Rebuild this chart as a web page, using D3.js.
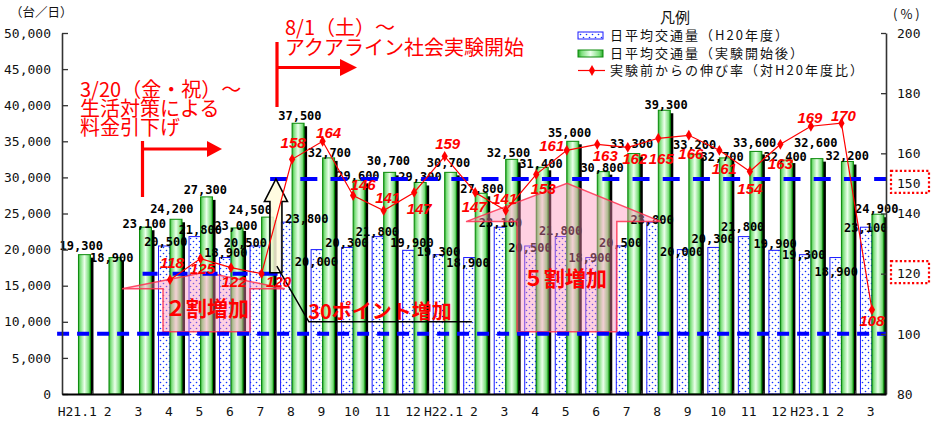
<!DOCTYPE html>
<html><head><meta charset="utf-8">
<script src="https://cdn.jsdelivr.net/npm/d3@7"></script>
<style>body{margin:0;background:#fff}svg{display:block}</style>
</head><body>
<svg id="c" width="937" height="424"></svg>
<script>
// ---------- DATA ----------
const months = ["H21.1","2","3","4","5","6","7","8","9","10","11","12","H22.1","2","3","4","5","6","7","8","9","10","11","12","H23.1","2","3"];
const trafficH20 = [null,null,null,20500,21800,18900,20500,23800,20000,20300,21800,19900,19300,18900,23100,20500,21800,18900,20500,23800,20000,20300,21800,19900,19300,18900,23100];
const trafficAfter = [19300,18900,23100,24200,27300,23000,24500,37500,32700,29600,30700,29300,30700,27800,32500,31400,35000,30800,33300,39300,33200,32700,33600,32400,32600,32200,24900];
const growthRate = [null,null,null,118,125,122,120,158,164,146,141,147,159,147,141,153,161,163,162,165,166,161,154,163,169,170,108];
const leftTicks = [0,5000,10000,15000,20000,25000,30000,35000,40000,45000,50000];
const rightTicks = [80,100,120,140,160,180,200];
const highlightedRight = [120,150];
const legendLabels = ["日平均交通量（H20年度）","日平均交通量（実験開始後）","実験前からの伸び率（対H20年度比）"];

// ---------- LABEL PLACEMENT (offsets in px relative to each mark) ----------
const afterLabelDx = [4,4,6,3,6,6,-10,9,8,6,6,7,5,8,4,6,4,6,5,9,7,4,6,6,6,7,6];
const afterLabelDy = [-9,0,-4,-11,-7,-2,-7,-8,-5,-5,-12,-6,-10,-5,-7,-4,-9,-4,-10,-6,-10,-1,-9,-3,-16,-6,-6];
const h20LabelDx = [0,0,0,-3,1,-4,-15,16,-5,-5,-5,-1,-5,-6,-4,-5,-5,-6,-6,-5,-6,-5,-6,-4,-6,-4,-5];
const h20LabelDy = [0,0,0,-4,-7,-5,-3,-3,12,-5,-5,-8,-3,5,-5,2,-6,0,-3,-2,2,-9,-10,-7,0,14,0];
const rateLabelDx = [0,0,0,2,2,3,17,1,6,10,4,5,3,-1,-1,7,-15,8,7,3,2,5,0,0,-1,2,0];
const rateLabelDy = [0,0,0,-17,10,14,8,-17,-9,-11,-13,16,-13,14,-12,14,-5,11,11,20,18,18,17,19,-9,-8,11];

// ---------- SETUP ----------
const svg = d3.select("#c");
const P = {l:62, r:886, t:33, b:394};
const x = d3.scaleBand().domain(d3.range(months.length)).range([P.l, P.r]);
const bw = x.bandwidth();
const xc = i => x(i) + bw/2;
const X = f => P.l + (f + 0.5) * bw;          // fractional month position
const y = d3.scaleLinear().domain([0,50000]).range([P.b, P.t]);
const yR = d3.scaleLinear().domain([80,200]).range([P.b, P.t]);
const sub = d3.scaleBand().domain(["h20","after"]).range([bw/2 - 10.8, bw/2 + 13.2]);
const BW = sub.bandwidth();

const MONO = "'DejaVu Sans Mono', monospace";
const JP = "'Noto Sans CJK JP', sans-serif";
const RED = "#ff0000";

const defs = svg.append("defs");
const pat = defs.append("pattern").attr("id","dots").attr("patternUnits","userSpaceOnUse")
  .attr("width",6).attr("height",6);
pat.append("rect").attr("width",6).attr("height",6).attr("fill","#fff");
pat.append("circle").attr("cx",1.5).attr("cy",1.5).attr("r",0.8).attr("fill","#1030ff");
pat.append("circle").attr("cx",4.5).attr("cy",4.5).attr("r",0.8).attr("fill","#1030ff");
const gr = defs.append("linearGradient").attr("id","green").attr("x1",0).attr("x2",1).attr("y1",0).attr("y2",0);
[[0,"#2aa82a"],[0.15,"#7ee07e"],[0.5,"#ecffec"],[0.85,"#7ee07e"],[1,"#2aa82a"]]
  .forEach(([o,c]) => gr.append("stop").attr("offset",o).attr("stop-color",c));

// ---------- BARS ----------
const gBars = svg.append("g");
const h20 = trafficH20.map((v,i)=>({v,i})).filter(d=>d.v!=null);
const aft = trafficAfter.map((v,i)=>({v,i}));
gBars.selectAll(".h20").data(h20).join("rect")
  .attr("x", d => x(d.i) + sub("h20") + 0.5).attr("y", d => y(d.v))
  .attr("width", BW - 0.5).attr("height", d => P.b - y(d.v))
  .attr("fill","url(#dots)").attr("stroke","#1a1aff").attr("stroke-width",1);
gBars.selectAll(".sh").data(aft).join("rect")
  .attr("x", d => x(d.i) + sub("after") + 3).attr("y", d => y(d.v) + 3)
  .attr("width", BW).attr("height", d => P.b - y(d.v) - 3).attr("fill","#000");
gBars.selectAll(".af").data(aft).join("rect")
  .attr("x", d => x(d.i) + sub("after")).attr("y", d => y(d.v))
  .attr("width", BW).attr("height", d => P.b - y(d.v))
  .attr("fill","url(#green)").attr("stroke","#0a8a0a").attr("stroke-width",1);

// ---------- VALUE LABELS ----------
const fmt = d3.format(",");
const gVal = svg.append("g").attr("font-family",MONO).attr("font-weight","bold").attr("font-size",12)
  .attr("text-anchor","middle").attr("fill","#000");
gVal.selectAll(".lh").data(h20).join("text")
  .attr("x", d => xc(d.i) + h20LabelDx[d.i]).attr("y", d => y(d.v) + h20LabelDy[d.i])
  .attr("dy","0.36em").text(d => fmt(d.v));
gVal.selectAll(".la").data(aft).join("text")
  .attr("x", d => xc(d.i) + afterLabelDx[d.i]).attr("y", d => y(d.v) + afterLabelDy[d.i])
  .attr("dy","0.36em").text(d => fmt(d.v));

// ---------- PINK "INCREASE" ARROWS ----------
const gAnn = svg.append("g");
function blockArrow(hl, hr, ax, ay, baseY, bl, br, botY){
  return [[X(hl),yR(baseY)],[X(ax),yR(ay)],[X(hr),yR(baseY)],[X(br),yR(baseY)],[X(br),yR(botY)],
          [X(bl),yR(botY)],[X(bl),yR(baseY)]];
}
const pinkArrows = [
  {pts: blockArrow(1.47, 6.8, 4.19, 120.5, 115, 2.81, 5.66, 100.7), text:"２割増加", tx:4.25, ty:108.3},
  {pts: blockArrow(12.74, 19.13, 16.05, 150, 137.3, 14.41, 17.68, 100.7), text:"５割増加", tx:15.98, ty:118.3}
];
pinkArrows.forEach(a=>{
  gAnn.append("path").attr("d", d3.line()(a.pts) + "Z")
    .attr("fill","#ff8fb8").attr("fill-opacity",0.42)
    .attr("stroke","#ff3050").attr("stroke-opacity",0.85).attr("stroke-width",1.5);
});

// ---------- DASHED GUIDE LINES ----------
const guides = [
  {value:100, from:-0.66, to:26.5, dash:"12,8"},
  {value:120, from:2.14, to:6.6, dash:"15,15"},
  {value:151.5, from:6.32, to:26.5, dash:"17,13.2"}
];
svg.append("g").selectAll("line").data(guides).join("line")
  .attr("x1", d => X(d.from)).attr("x2", d => X(d.to))
  .attr("y1", d => yR(d.value)).attr("y2", d => yR(d.value))
  .attr("stroke","#0000ff").attr("stroke-width",4).attr("stroke-dasharray", d => d.dash);

// pink arrow texts
pinkArrows.forEach(a=>{
  gAnn.append("text").attr("x",X(a.tx)).attr("y",yR(a.ty)).attr("dy","0.36em")
    .attr("text-anchor","middle").attr("font-family",JP).attr("font-weight",700)
    .attr("font-size",21).attr("fill",RED).text(a.text);
});

// ---------- "30ポイント増加" arrow ----------
const upTip = [X(6.51), yR(151.5)], headY = yR(144), botY = yR(120.3);
const upArrow = [[upTip[0], upTip[1]],[upTip[0]+11.5, headY],[upTip[0]+6, headY],[upTip[0]+6, botY],
  [upTip[0]-6, botY],[upTip[0]-6, headY],[upTip[0]-11.5, headY]];
svg.append("path").attr("d", d3.line()(upArrow)+"Z").attr("fill","#fffbdc").attr("fill-opacity",0.85)
  .attr("stroke","#000").attr("stroke-width",1.6);
svg.append("path").attr("d", d3.line()([[X(6.54), yR(122.5)],[X(7.59), yR(104)],[X(12.93), yR(104)]]))
  .attr("fill","none").attr("stroke","#000").attr("stroke-width",1.5);
svg.append("text").attr("x",X(9.92)).attr("y",yR(107.3)).attr("dy","0.36em").attr("text-anchor","middle")
  .attr("font-family",JP).attr("font-weight",700).attr("font-size",20).attr("fill",RED).text("30ポイント増加");

// ---------- GROWTH RATE LINE ----------
const rate = growthRate.map((v,i)=>({v,i})).filter(d=>d.v!=null);
const rx = d => xc(d.i) + 1.2;
svg.append("path").datum(rate)
  .attr("d", d3.line().x(rx).y(d => yR(d.v)))
  .attr("fill","none").attr("stroke",RED).attr("stroke-width",1.2);
svg.append("g").selectAll("path").data(rate).join("path")
  .attr("transform", d => `translate(${rx(d)},${yR(d.v)})`)
  .attr("d", d3.symbol(d3.symbolDiamond, 34)).attr("fill",RED);
svg.append("g").attr("font-family","'Liberation Sans', Arial, sans-serif").attr("font-weight","bold")
  .attr("font-style","italic").attr("font-size",15).attr("fill",RED).attr("text-anchor","middle")
  .selectAll("text").data(rate).join("text")
  .attr("x", d => rx(d) + rateLabelDx[d.i]).attr("y", d => yR(d.v) + rateLabelDy[d.i])
  .attr("dy","0.36em").text(d => d.v);

// ---------- TEXT ANNOTATIONS (top-left) ----------
const ann = svg.append("g").attr("font-family",JP).attr("font-size",20).attr("fill",RED);
[["3/20（金・祝）～",80,97],["生活対策による",80,116],["料金引下げ",80,135],
 ["8/1（土）～",285,35],["アクアライン社会実験開始",285,55]].forEach(([t,tx,ty])=>{
  ann.append("text").attr("x",tx).attr("y",ty).text(t);
});
function bracket(vx, vy1, vy2, hy, hx2, tipX, hh){
  svg.append("line").attr("x1",vx).attr("x2",vx).attr("y1",vy1).attr("y2",vy2)
    .attr("stroke",RED).attr("stroke-width",3.2);
  svg.append("line").attr("x1",vx).attr("x2",hx2).attr("y1",hy).attr("y2",hy)
    .attr("stroke",RED).attr("stroke-width",3.2);
  svg.append("path").attr("d",`M${hx2},${hy-hh}L${tipX},${hy}L${hx2},${hy+hh}Z`).attr("fill",RED);
}
bracket(142.5, 141, 197, 149, 207, 222, 8);
bracket(277, 42, 107, 67.5, 340, 357, 8.5);

// ---------- AXES ----------
const axL = svg.append("g").attr("transform",`translate(${P.l},0)`)
  .call(d3.axisLeft(y).tickValues(leftTicks).tickSizeInner(-6).tickSizeOuter(0).tickPadding(11).tickFormat(fmt));
const axR = svg.append("g").attr("transform",`translate(${P.r},0)`)
  .call(d3.axisRight(yR).tickValues(rightTicks.concat([150])).tickSizeInner(-5).tickSizeOuter(0).tickPadding(11));
axR.selectAll(".tick").filter(d => d===150).select("line").remove();
const axB = svg.append("g").attr("transform",`translate(0,${P.b})`)
  .call(d3.axisBottom(x).tickFormat(i => months[i]).tickSize(0).tickPadding(13));
[axL,axR,axB].forEach(a=>{
  a.selectAll("text").attr("font-family",MONO).attr("font-size",13).attr("fill","#111");
  a.selectAll("line").attr("stroke","#333").attr("stroke-width",1.3);
  a.select(".domain").attr("stroke","#333").attr("stroke-width",1.6);
});
axB.select(".domain").attr("stroke","#000").attr("stroke-width",2);
svg.append("g").selectAll("line").data(d3.range(1, months.length)).join("line")
  .attr("x1", i => x(i)).attr("x2", i => x(i)).attr("y1", P.b).attr("y2", P.b - 3.5)
  .attr("stroke","#333").attr("stroke-width",1.2);
// dotted highlight boxes on the right axis
svg.append("g").selectAll("rect").data(highlightedRight).join("rect")
  .attr("x", P.r + 5).attr("y", d => yR(d) - 12.5).attr("width", 38).attr("height", 22)
  .attr("fill","none").attr("stroke",RED).attr("stroke-width",2.2).attr("stroke-dasharray","2.2,2.2");

// axis units
svg.append("text").attr("x",10).attr("y",12).attr("dy","0.36em").attr("font-family",JP)
  .attr("font-size",12.5).attr("fill","#111").text("（台／日）");
svg.append("text").attr("x",893).attr("y",14).attr("dy","0.36em").attr("font-family",JP)
  .attr("font-size",13).attr("letter-spacing",3).attr("fill","#111").text("(%)");

// ---------- LEGEND ----------
const lg = svg.append("g").attr("font-family",JP);
lg.append("text").attr("x",675).attr("y",17.5).attr("dy","0.36em").attr("text-anchor","middle")
  .attr("font-size",15).attr("fill","#111").text("凡例");
const rows = [35.5, 53.5, 70.5];
lg.append("rect").attr("x",578).attr("y",rows[0]-3.5).attr("width",25).attr("height",7)
  .attr("fill","url(#dots)").attr("stroke","#1a1aff");
lg.append("rect").attr("x",578).attr("y",rows[1]-3.5).attr("width",25).attr("height",7)
  .attr("fill","url(#green)").attr("stroke","#0a8a0a");
lg.append("line").attr("x1",578).attr("x2",605).attr("y1",rows[2]).attr("y2",rows[2])
  .attr("stroke",RED).attr("stroke-width",1.2);
lg.append("path").attr("transform",`translate(592,${rows[2]})`).attr("d",d3.symbol(d3.symbolDiamond,34)).attr("fill",RED);
lg.selectAll(".lt").data(legendLabels).join("text")
  .attr("x",610).attr("y",(d,i)=>rows[i]).attr("dy","0.36em").attr("font-size",13)
  .attr("letter-spacing",2).attr("fill","#111").text(d=>d);
</script>
</body></html>
